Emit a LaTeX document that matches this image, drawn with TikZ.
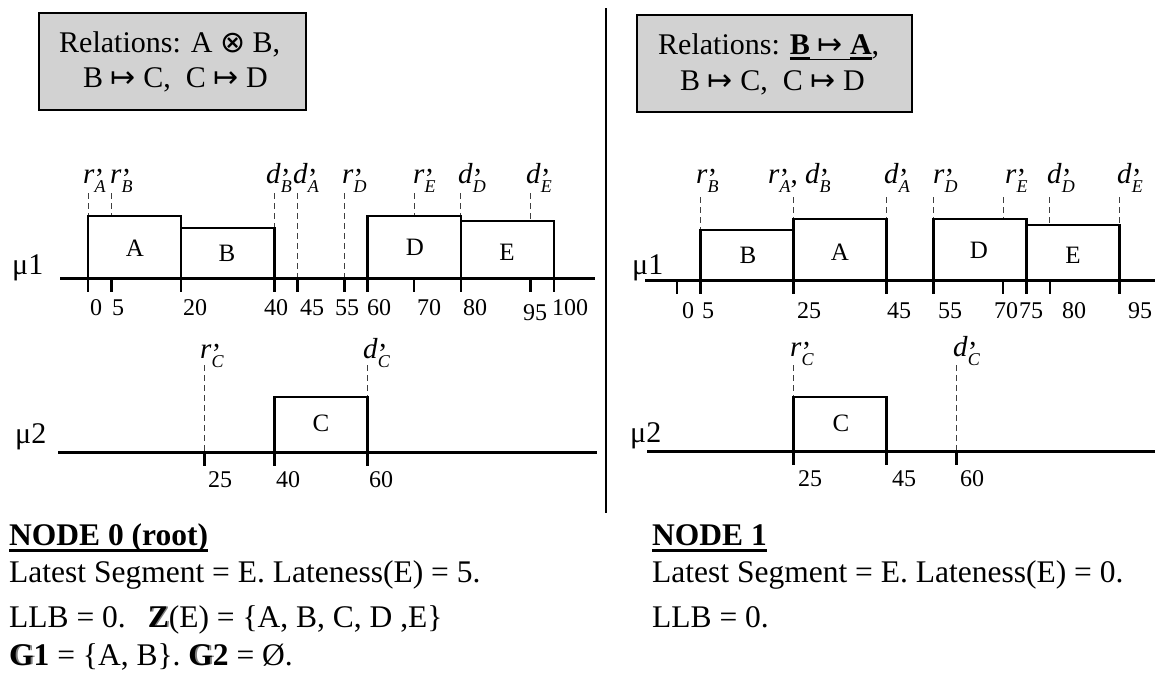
\documentclass[tikz,border=0pt]{standalone}
\usepackage{fontspec}
\setmainfont{Liberation Serif}
\newfontfamily\sym{DejaVu Sans}
\newcommand\lb[2]{{\fontsize{29}{29}\selectfont\textit{#1}\makebox[0pt][l]{\raisebox{-5pt}{’}}\raisebox{-9pt}{\fontsize{18}{18}\selectfont\textit{#2}}}}
\newcommand\ulx[2]{\setbox0=\hbox{#2}\rlap{\rule[-6pt]{\wd0}{#1}}\box0}
\newcommand\shd[1]{\makebox[0pt][l]{\hspace{1.8pt}\textcolor{gray}{\textbf{#1}}}\textbf{#1}}
\begin{document}
\begin{tikzpicture}[x=1pt,y=-1pt,
  axisline/.style={line width=3pt},
  tickline/.style={line width=2.5pt},
  bar/.style={draw,line width=2.5pt},
  guide/.style={draw=black!75,line width=1pt,dash pattern=on 6pt off 4pt},
  relbox/.style={draw,line width=2.5pt,fill=gray!35},
  sepline/.style={line width=2.5pt},
  boxtxt/.style={inner sep=0pt,anchor=base west,font=\fontsize{30}{36}\selectfont},
  txt/.style={inner sep=0pt,anchor=base west,font=\fontsize{31.5}{38}\selectfont},
  num/.style={inner sep=0pt,anchor=base west,font=\fontsize{24}{24}\selectfont},
  seg/.style={inner sep=0pt,font=\fontsize{25}{25}\selectfont},
  lab/.style={inner sep=0pt,anchor=base west,font=\fontsize{29}{29}\selectfont},
  mu/.style={inner sep=0pt,anchor=base west,font=\fontsize{30}{30}\selectfont},
  ul/.style={line width=3pt}]
\useasboundingbox (0,0) rectangle (1159,673);

% separator
\draw[sepline] (606,8) -- (606,513);

% relation boxes
\draw[relbox] (39,13) rectangle (306,110);
\node[boxtxt] (relL1) at (59,52) {Relations: A {\sym ⊗} B,};
\node[boxtxt] (relL2) at (83,87) {B {\sym ↦} C,\ \ C {\sym ↦} D};
\draw[relbox] (637,15) rectangle (912,112);
\node[boxtxt] (relR1) at (658,54) {Relations: \ulx{3pt}{\textbf{B}}\ulx{1.2pt}{\ {\sym ↦}\ }\ulx{3pt}{\textbf{A}},};
\node[boxtxt] (relR2) at (680,90) {B {\sym ↦} C,\ \ C {\sym ↦} D};

% ---------- LEFT mu1 ----------
\node[mu] (muL1) at (12,274) {μ1};
\foreach \x/\y in {88/278,111.3/216,274.4/228,297.7/278,344.3/278,414.2/216,460.8/216,530.7/221}
  \draw[guide] (\x,193) -- (\x,\y);
\draw[axisline] (60,278) -- (595,278);
\foreach \x in {88,111.3,181.2,274.4,297.7,344.3,367.6,414.2,460.8,530.7,554}
  \draw[tickline] (\x,278) -- (\x,292);
\draw[bar] (88,278) rectangle (181.2,216);
\draw[bar] (181.2,278) rectangle (274.4,228);
\draw[bar] (367.6,278) rectangle (460.8,216);
\draw[bar] (460.8,278) rectangle (554,221);
\node[seg] (sLA) at (135,248) {A};
\node[seg] (sLB) at (227,253) {B};
\node[seg] (sLD) at (415,247) {D};
\node[seg] (sLE) at (507,252) {E};
\node[lab] (lLrA) at (83,183) {\lb{r}{A}};
\node[lab] (lLrB) at (110,183) {\lb{r}{B}};
\node[lab] (lLdB) at (266,183) {\lb{d}{B}};
\node[lab] (lLdA) at (293,183) {\lb{d}{A}};
\node[lab] (lLrD) at (342,183) {\lb{r}{D}};
\node[lab] (lLrE) at (413,183) {\lb{r}{E}};
\node[lab] (lLdD) at (458,183) {\lb{d}{D}};
\node[lab] (lLdE) at (526,183) {\lb{d}{E}};
\foreach \x/\t in {90/0,112/5,183/20,264/40,300/45,335/55,367/60,417/70,463/80,552/100}
  \node[num] (nL\t) at (\x,315) {\t};
\node[num] (nL95) at (523,320) {95};

% ---------- LEFT mu2 ----------
\node[mu] (muL2) at (15,443) {μ2};
\draw[guide] (204.5,365) -- (204.5,452);
\draw[guide] (367.6,365) -- (367.6,397);
\draw[axisline] (58,452) -- (597,452);
\foreach \x in {204.5,274.4,367.6}
  \draw[tickline] (\x,452) -- (\x,466);
\draw[bar] (274.4,452) rectangle (367.6,397);
\node[seg] (sLC) at (321,423) {C};
\node[lab] (lLrC) at (200,358) {\lb{r}{C}};
\node[lab] (lLdC) at (363,358) {\lb{d}{C}};
\foreach \x/\t in {208/25,276/40,369/60}
  \node[num] (mL\t) at (\x,487) {\t};

% ---------- RIGHT mu1 ----------
\node[mu] (muR1) at (632,274) {μ1};
\foreach \x/\y in {700.3/230,793.5/219,886.7/219,933.3/280,1003.2/219,1049.8/225,1119.7/225}
  \draw[guide] (\x,197) -- (\x,\y);
\draw[axisline] (645,280) -- (1155,280);
\foreach \x in {677,700.3,793.5,886.7,933.3,1003.2,1026.5,1049.8,1119.7}
  \draw[tickline] (\x,280) -- (\x,294);
\draw[bar] (700.3,280) rectangle (793.5,230);
\draw[bar] (793.5,280) rectangle (886.7,219);
\draw[bar] (933.3,280) rectangle (1026.5,219);
\draw[bar] (1026.5,280) rectangle (1119.7,225);
\node[seg] (sRB) at (748,255) {B};
\node[seg] (sRA) at (840,252) {A};
\node[seg] (sRD) at (979,250) {D};
\node[seg] (sRE) at (1073,255) {E};
\node[lab] (lRrB) at (696,183) {\lb{r}{B}};
\node[lab] (lRrAdB) at (768,183) {\lb{r}{A}, \lb{d}{B}};
\node[lab] (lRdA) at (884,183) {\lb{d}{A}};
\node[lab] (lRrD) at (933,183) {\lb{r}{D}};
\node[lab] (lRrE) at (1005,183) {\lb{r}{E}};
\node[lab] (lRdD) at (1047,183) {\lb{d}{D}};
\node[lab] (lRdE) at (1117,183) {\lb{d}{E}};
\foreach \x/\t in {682/0,702/5,797/25,887/45,938/55,994/70,1019/75,1062/80,1128/95}
  \node[num] (nR\t) at (\x,318) {\t};

% ---------- RIGHT mu2 ----------
\node[mu] (muR2) at (630,442) {μ2};
\draw[guide] (793.5,365) -- (793.5,397);
\draw[guide] (956.6,365) -- (956.6,451);
\draw[axisline] (647,451) -- (1155,451);
\foreach \x in {793.5,886.7,956.6}
  \draw[tickline] (\x,451) -- (\x,465);
\draw[bar] (793.5,451) rectangle (886.7,397);
\node[seg] (sRC) at (841,423) {C};
\node[lab] (lRrC) at (790,356) {\lb{r}{C}};
\node[lab] (lRdC) at (953,356) {\lb{d}{C}};
\foreach \x/\t in {798/25,892/45,960/60}
  \node[num] (mR\t) at (\x,486) {\t};

% ---------- bottom text ----------
\node[txt] (h0) at (9,545) {\textbf{NODE 0 (root)}};
\draw[ul] ([yshift=-5pt]h0.base west) -- ([yshift=-5pt]h0.base east);
\node[txt] (t01) at (9,582) {Latest Segment = E. Lateness(E) = 5.};
\node[txt] (t02) at (9,627) {LLB = 0.\hspace{22pt}\shd{Z}(E) = \{A, B, C, D ,E\}};
\node[txt] (t03) at (9,665) {\shd{G}\textbf{1} = \{A, B\}. \shd{G}\textbf{2} = Ø.};
\node[txt] (h1) at (652,545) {\textbf{NODE 1}};
\draw[ul] ([yshift=-5pt]h1.base west) -- ([yshift=-5pt]h1.base east);
\node[txt] (t11) at (652,582) {Latest Segment = E. Lateness(E) = 0.};
\node[txt] (t12) at (652,627) {LLB = 0.};
\end{tikzpicture}
\end{document}
